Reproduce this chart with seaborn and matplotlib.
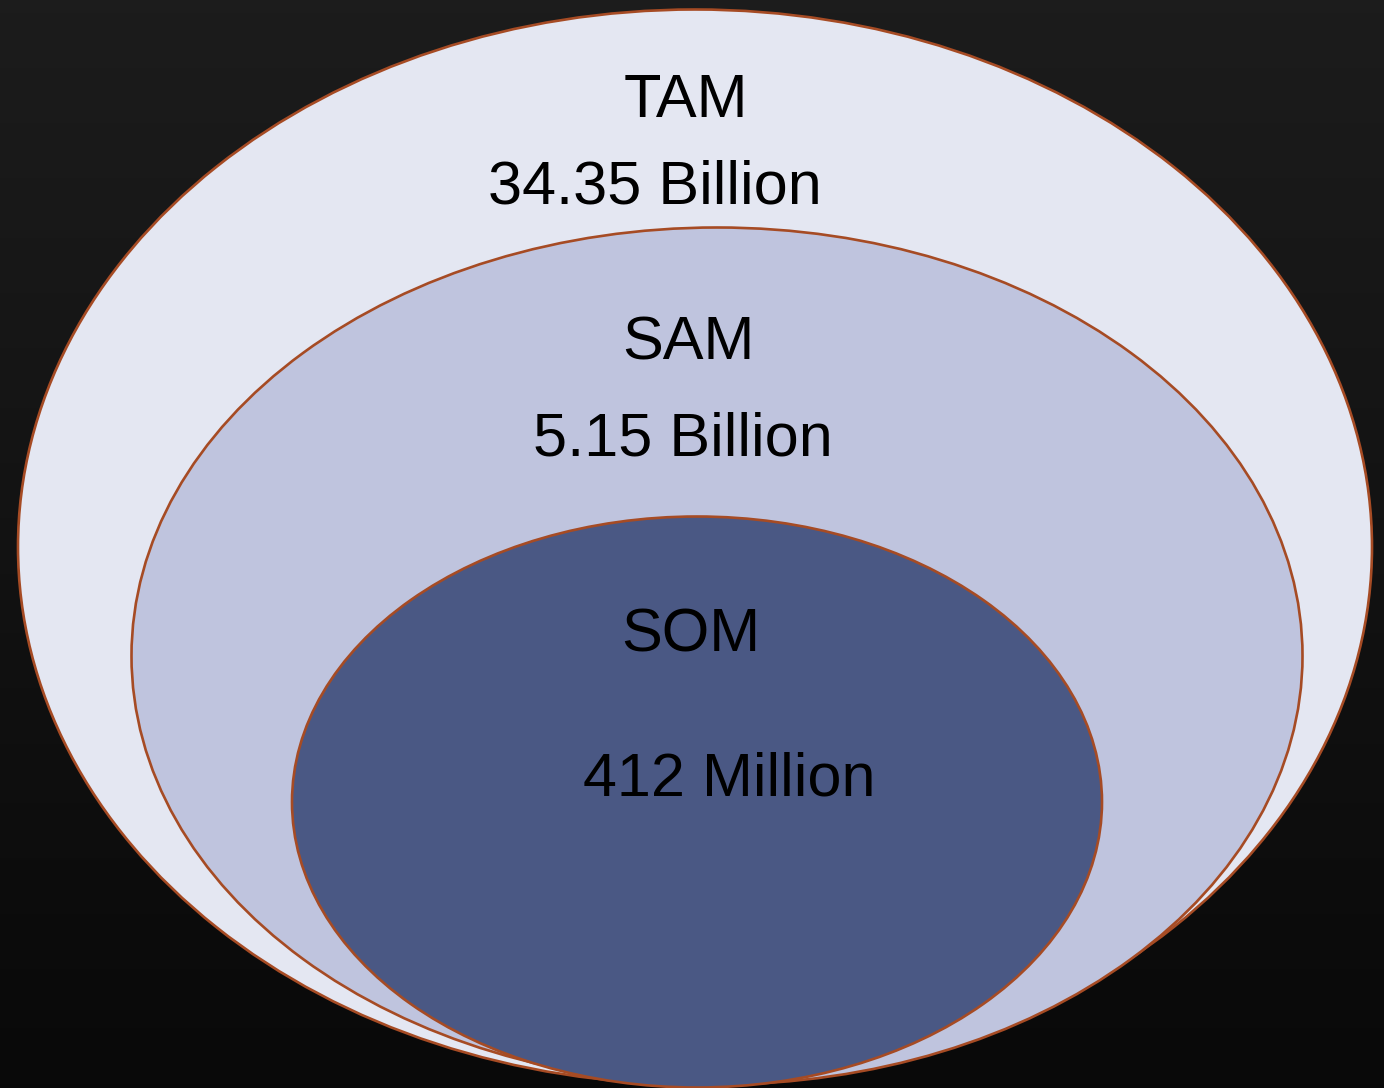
import matplotlib.pyplot as plt
import numpy as np
import seaborn as sns
from matplotlib.patches import Ellipse

sns.set_theme(style='white')
plt.rcParams['font.family'] = ['Liberation Sans', 'DejaVu Sans']

# market tiers, outer to inner
segments = ['TAM', 'SAM', 'SOM']
values = ['34.35 Billion', '5.15 Billion', '412 Million']
fills = ['#e4e7f2', '#bfc4de', '#4a5884']

# ellipse geometry in pixel space: center x, center y, width, height
ell_cx = [695, 717, 697]
ell_cy = [547, 656, 802]
ell_w = [1354, 1171, 810]
ell_h = [1075, 857, 571]

# label anchors (center x, baseline y)
name_pos = [(686, 117), (688, 359), (691, 651)]
value_pos = [(655, 203), (683, 456), (729, 796)]

W, H = 1384, 1088
fig = plt.figure(figsize=(W / 100, H / 100), dpi=100)
ax = fig.add_axes([0, 0, 1, 1])
ax.set_xlim(0, W)
ax.set_ylim(H, 0)
ax.axis('off')

# dark background, slightly lighter at the top
grad = np.linspace(0.11, 0.035, 256)[:, None]
ax.imshow(np.repeat(grad, 2, axis=1), cmap='gray', vmin=0, vmax=1,
          extent=[0, W, H, 0], aspect='auto', zorder=0)

for i in range(len(segments)):
    ax.add_patch(Ellipse((ell_cx[i], ell_cy[i]), ell_w[i], ell_h[i],
                         facecolor=fills[i], edgecolor='#a64b24',
                         linewidth=1.9, zorder=1 + i))
    ax.text(*name_pos[i], segments[i], ha='center', va='baseline',
            fontsize=44, color='black', zorder=10)
    ax.text(*value_pos[i], values[i], ha='center', va='baseline',
            fontsize=44, color='black', zorder=10)

fig.savefig('out.png', dpi=100)
